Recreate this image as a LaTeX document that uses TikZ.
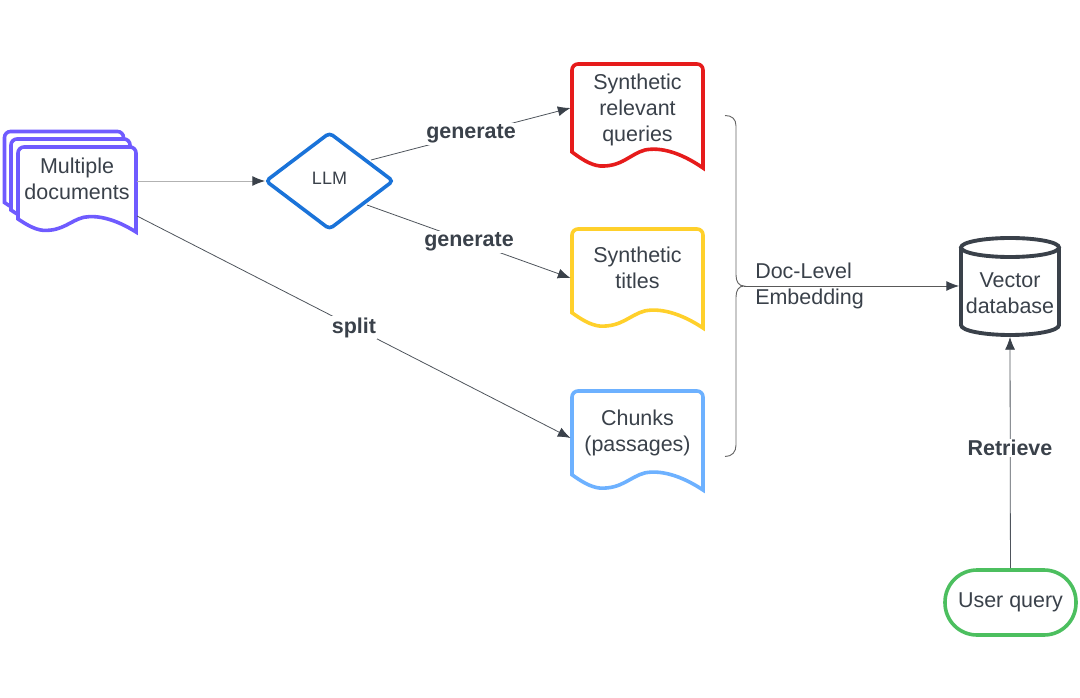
\documentclass[tikz,border=0pt]{standalone}
\usepackage{fontspec}
\setmainfont{Liberation Sans}
\usetikzlibrary{arrows.meta}
\definecolor{inkgrey}{HTML}{3A414A}
\definecolor{docred}{HTML}{E61B1B}
\definecolor{docyellow}{HTML}{FFD02B}
\definecolor{docblue}{HTML}{6DB1FF}
\definecolor{docpurple}{HTML}{6F5BFF}
\definecolor{llmblue}{HTML}{1A73D9}
\definecolor{querygreen}{HTML}{4CBF5F}
\tikzset{
	x=0.75pt, y=-0.75pt,
	doctext/.style={text=inkgrey, align=center, inner sep=0pt, font=\fontsize{16.1}{19.5}\selectfont},
	lbl/.style={fill=white, text=inkgrey, inner sep=1pt, font=\fontsize{16.1}{19.5}\selectfont\bfseries},
	conn/.style={draw=inkgrey!90, line width=0.6pt, -{Latex[length=9.5pt, width=7.5pt, color=inkgrey]}},
	connpale/.style={draw=black!30, line width=0.7pt, -{Latex[length=9.5pt, width=7.5pt, color=inkgrey]}},
	bracket/.style={draw=black!60, line width=0.7pt}
}
% x, y of the top left corner, width, height, colour
\def\docshape(#1,#2,#3,#4,#5){\draw[line width=2.7pt, color=#5, fill=white, line join=miter, shift={(#1,#2)}, xscale=#3/131, yscale=#4/104]
	(0,88) [rounded corners=4.5pt] -- (0,0) -- (131,0) [sharp corners] -- (131,104)
	.. controls (108,88) and (88,83) .. (73,86) .. controls (58,90) and (50,103) .. (28,102) .. controls (18,101) and (8,94) .. (0,88) -- cycle;}

\begin{document}
\begin{tikzpicture}
	%%%%% START %%%%%
	\useasboundingbox (0,0) rectangle (1080,698);

	% source documents
	\docshape(4.5,131.5,119,84,docpurple);
	\docshape(11,139,119,84,docpurple);
	\docshape(18,147,118,85,docpurple);
	\node[doctext] (multi) at (77,178.5) {Multiple\\documents};
	\coordinate (multiout) at (137,181);
	\coordinate (multisplit) at (137,216);

	% llm
	\draw[line width=2.7pt, color=llmblue, fill=white, rounded corners=3pt] (329.5,133) -- (393,181) -- (329.5,229) -- (266,181) -- cycle;
	\node[text=inkgrey, font=\fontsize{13.5}{16}\selectfont] (llm) at (329.5,178) {LLM};
	\coordinate (llmin) at (265,181);
	\coordinate (llmtop) at (371,160);
	\coordinate (llmbot) at (367,205);

	% generated documents
	\docshape(572,64,131,104,docred);
	\node[doctext] (queries) at (637.5,109.5) {Synthetic\\relevant\\queries};
	\coordinate (queriesin) at (570.5,108);

	\docshape(572,229,131,99,docyellow);
	\node[doctext] (titles) at (637.5,268) {Synthetic\\titles};
	\coordinate (titlesin) at (570.5,278);

	\docshape(572,391,131,99,docblue);
	\node[doctext] (chunks) at (637.5,432.5) {Chunks\\(passages)};
	\coordinate (chunksin) at (570.5,438);

	% connectors
	\draw[connpale] (multiout) -- (llmin);
	\draw[conn] (llmtop) -- (queriesin);
	\draw[conn] (llmbot) -- (titlesin);
	\draw[conn] (multisplit) -- (chunksin);
	\node[lbl] (genqueries) at (471,134) {generate};
	\node[lbl] (gentitles) at (469,242) {generate};
	\node[lbl] (split) at (354,327.5) {split};

	% brace
	\draw[bracket] (725,115.5) .. controls (732,115.5) and (736,119) .. (736,126) -- (736,275) .. controls (736,282) and (739,286) .. (744,286)
		.. controls (739,286) and (736,290) .. (736,297) -- (736,445) .. controls (736,452) and (732,456.5) .. (725,456.5);
	\coordinate (bracetip) at (744,286);
	\node[doctext, align=left, anchor=west] (embed) at (755,285.5) {Doc-Level\\Embedding};

	% database
	\draw[line width=2.9pt, color=inkgrey, fill=white] (961,248) -- (961,325) .. controls (961,331) and (985,335) .. (1010,335) .. controls (1035,335) and (1059,331) .. (1059,325) -- (1059,248);
	\draw[line width=2.9pt, color=inkgrey, fill=white] (1010,247.5) ellipse (49 and 9.5);
	\node[doctext] (vector) at (1010,293) {Vector\\database};
	\coordinate (dbleft) at (959,286);
	\coordinate (dbbot) at (1010,337);

	\draw[conn, draw=black!65] (bracetip) -- (dbleft);

	% query
	\node[doctext, draw=querygreen, line width=2.7pt, fill=white, rounded corners=24pt, minimum width=131pt*0.75, minimum height=65pt*0.75] (query) at (1010.5,602.5) {User query};
	\draw[conn] (query) -- (dbbot);
	\node[lbl] (retrieve) at (1010,448) {Retrieve};

	%%%%% END %%%%%
\end{tikzpicture}
\end{document}
